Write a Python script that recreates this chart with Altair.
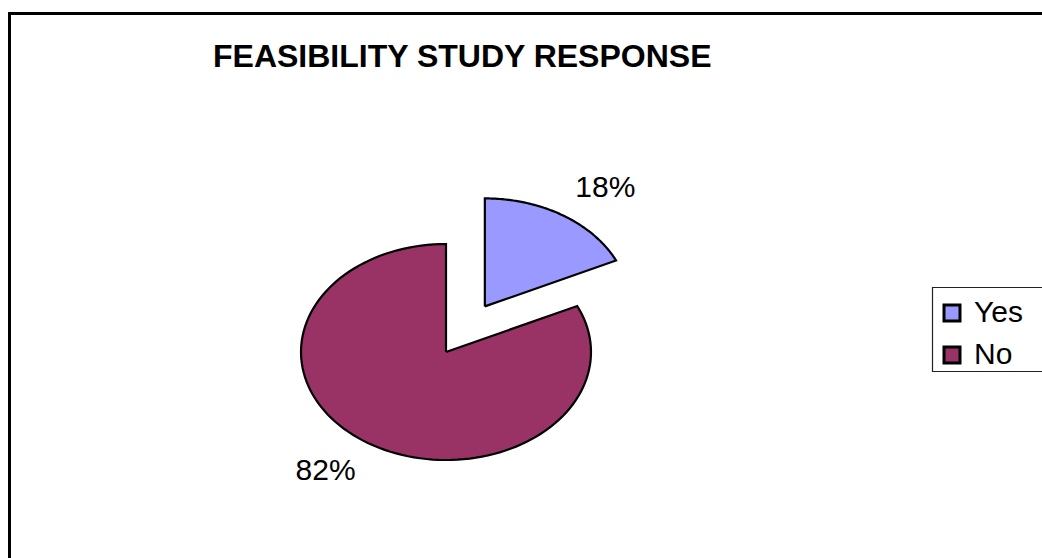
import altair as alt
import pandas as pd

# ---- data ----
categories = ["Yes", "No"]
values = [18, 82]
slice_order = [0, 1]
colors = ["#9999FF", "#993366"]
title_text = "FEASIBILITY STUDY RESPONSE"

df = pd.DataFrame({"category": categories, "value": values, "order": slice_order})

# ---- layout (pixels) ----
W, H = 1042, 558
CX, CY, RX, RY = 446, 352, 145, 108
x_dom = [-CX / RX, (W - CX) / RX]
y_dom = [(CY - H) / RY, CY / RY]
xs = alt.Scale(domain=x_dom, range=[0, W], nice=False, zero=False)
ys = alt.Scale(domain=y_dom, range=[H, 0], nice=False, zero=False)
N = 120
FONT = "Liberation Sans"

base = (
    alt.Chart(df)
    .transform_joinaggregate(total="sum(value)")
    .transform_window(cum="sum(value)", sort=[alt.SortField("order")])
    .transform_calculate(
        a0="2*PI*(datum.cum - datum.value)/datum.total",
        a1="2*PI*datum.cum/datum.total",
    )
    .transform_calculate(
        amid="(datum.a0 + datum.a1)/2",
        explode="datum.category == 'Yes' ? 0.5 : 0",
    )
    .transform_calculate(
        ox="datum.explode*sin(datum.amid)",
        oy="datum.explode*cos(datum.amid)",
    )
)

pie = (
    base.transform_calculate(step=f"sequence(-1, {N + 2})")
    .transform_flatten(["step"])
    .transform_calculate(
        ang=f"datum.a0 + (datum.a1 - datum.a0)*clamp(datum.step, 0, {N})/{N}",
        inner=f"datum.step < 0 || datum.step > {N}",
    )
    .transform_calculate(
        px="datum.ox + (datum.inner ? 0 : sin(datum.ang))",
        py="datum.oy + (datum.inner ? 0 : cos(datum.ang))",
    )
    .mark_line(filled=True, stroke="black", strokeWidth=2.2, strokeJoin="miter")
    .encode(
        x=alt.X("px:Q", scale=xs, axis=None),
        y=alt.Y("py:Q", scale=ys, axis=None),
        order=alt.Order("step:Q"),
        color=alt.Color(
            "category:N",
            scale=alt.Scale(domain=categories, range=colors),
            legend=alt.Legend(
                title=None,
                orient="none",
                legendX=932,
                legendY=291,
                direction="vertical",
                symbolType="square",
                symbolSize=256,
                symbolStrokeColor="black",
                symbolStrokeWidth=3,
                symbolOffset=-2,
                labelFontSize=30,
                labelFont=FONT,
                labelColor="black",
                labelOffset=7,
                rowPadding=12,
                padding=7,
                cornerRadius=0,
            ),
        ),
    )
)

labels = (
    base.transform_calculate(
        lx="datum.ox + 1.55*sin(datum.amid)",
        ly="datum.oy + 1.3*cos(datum.amid)",
        label="format(datum.value/datum.total, '.0%')",
    )
    .mark_text(font=FONT, fontSize=30, color="black", align="center", baseline="middle")
    .encode(
        x=alt.X("lx:Q", scale=xs, axis=None),
        y=alt.Y("ly:Q", scale=ys, axis=None),
        text="label:N",
    )
)

title = (
    alt.Chart(pd.DataFrame({"t": [title_text]}))
    .mark_text(font=FONT, fontSize=32, fontWeight="bold", color="black", align="left", baseline="alphabetic")
    .encode(x=alt.value(213), y=alt.value(67), text="t:N")
)

border = (
    alt.Chart(pd.DataFrame({"a": [0]}))
    .mark_rect(filled=False, stroke="black", strokeWidth=3)
    .encode(x=alt.value(9.5), y=alt.value(13.5), x2=alt.value(1100), y2=alt.value(620))
)

legend_box = (
    alt.Chart(pd.DataFrame({"a": [0]}))
    .mark_rect(filled=False, stroke="#222222", strokeWidth=1.2)
    .encode(x=alt.value(932.5), y=alt.value(287.5), x2=alt.value(1100), y2=alt.value(371.5))
)

chart = (
    alt.layer(border, legend_box, pie, labels, title)
    .properties(width=W, height=H, autosize="none", padding=0, background="white")
    .configure_view(stroke=None)
)

chart.save("out.html", embed_options={"renderer": "svg", "actions": False})
